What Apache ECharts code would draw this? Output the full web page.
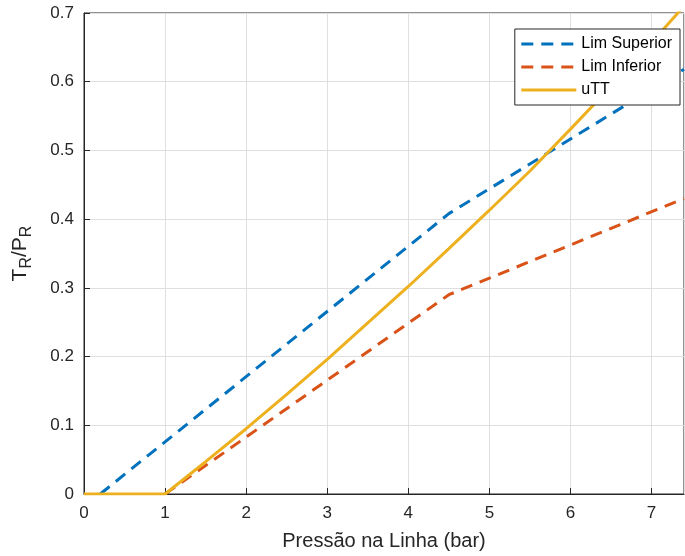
<!DOCTYPE html>
<html>
<head>
    <meta charset="utf-8">
    <script src="https://cdn.jsdelivr.net/npm/echarts@6/dist/echarts.min.js"></script>
</head>
<body style="margin: 0; background: #fff">
    <div id="container" style="width: 685px; height: 556px"></div>
    <script type="text/javascript">
        // pressao (bar) -> TR/PR
        var limSupX = [0.2, 4.5, 7.4];
        var limSupY = [0, 0.408, 0.618];
        var limInfX = [1, 4.5, 7.4];
        var limInfY = [0, 0.29, 0.43];
        var uttX = [0, 1, 1.5, 2, 2.5, 3, 3.5, 4, 4.5, 5, 5.5, 6, 6.5, 7, 7.4];
        var uttY = [0, 0, 0.047, 0.095, 0.145, 0.196, 0.249, 0.302, 0.357, 0.413, 0.47, 0.531, 0.593, 0.657, 0.71];
        var xTicks = [0, 1, 2, 3, 4, 5, 6, 7];

        function pares(xs, ys) {
            return xs.map(function (x, i) { return [x, ys[i]]; });
        }

        var fonte = 'Liberation Sans, Helvetica, Arial, sans-serif';
        var cinza = '#262626';

        var myChart = echarts.init(document.getElementById('container'));
        var option = {
            animation: false,
            textStyle: { fontFamily: fonte },
            grid: { left: 84, right: 1, top: 13, bottom: 62, show: true, borderColor: cinza, borderWidth: 1,
                containLabel: false, outerBoundsMode: 'none' },
            legend: {
                orient: 'vertical',
                right: 5, top: 29,
                backgroundColor: '#fff',
                borderColor: cinza, borderWidth: 1, borderRadius: 0,
                padding: [7, 8, 7, 5],
                itemGap: 7,
                itemWidth: 55, itemHeight: 14,
                itemStyle: { opacity: 0 },
                lineStyle: { width: 3 },
                textStyle: { fontSize: 16, color: '#000', fontFamily: fonte },
                data: ['Lim Superior', 'Lim Inferior', 'uTT']
            },
            xAxis: {
                type: 'value', min: 0, max: 7.4, interval: 1,
                name: 'Pressão na Linha (bar)', nameLocation: 'middle', nameGap: 37,
                nameTextStyle: { fontSize: 20, color: cinza },
                axisLine: { lineStyle: { color: cinza } },
                axisTick: { inside: true, length: 6, lineStyle: { color: cinza } },
                axisLabel: { fontSize: 17, color: cinza, margin: 11, showMaxLabel: false,
                    formatter: function (v) { return xTicks.indexOf(v) >= 0 ? String(v) : ''; } },
                splitLine: { show: true, lineStyle: { color: '#dfdfdf' } }
            },
            yAxis: {
                type: 'value', min: 0, max: 0.7, interval: 0.1,
                name: '{a|T}{s|R}{a|/P}{s|R}', nameLocation: 'middle', nameGap: 49,
                nameTextStyle: {
                    color: cinza,
                    rich: {
                        a: { fontSize: 21, color: cinza, fontFamily: fonte },
                        s: { fontSize: 16, color: cinza, fontFamily: fonte, padding: [13, 0, 0, 0] }
                    }
                },
                axisLine: { show: true, lineStyle: { color: cinza } },
                axisTick: { show: true, inside: true, length: 6, lineStyle: { color: cinza } },
                axisLabel: { fontSize: 17, color: cinza, margin: 10 },
                splitLine: { show: true, lineStyle: { color: '#dfdfdf' } }
            },
            series: [
                {
                    name: 'Lim Superior', type: 'line', symbol: 'none',
                    data: pares(limSupX, limSupY),
                    itemStyle: { color: '#0072BD' },
                    lineStyle: { color: '#0072BD', width: 3, type: [12, 8] }
                },
                {
                    name: 'Lim Inferior', type: 'line', symbol: 'none',
                    data: pares(limInfX, limInfY),
                    itemStyle: { color: '#D95319' },
                    lineStyle: { color: '#D95319', width: 3, type: [12, 8] }
                },
                {
                    name: 'uTT', type: 'line', symbol: 'none',
                    data: pares(uttX, uttY),
                    itemStyle: { color: '#EDB120' },
                    lineStyle: { color: '#EDB120', width: 3 }
                }
            ]
        };
        myChart.setOption(option);
    </script>
</body>
</html>
